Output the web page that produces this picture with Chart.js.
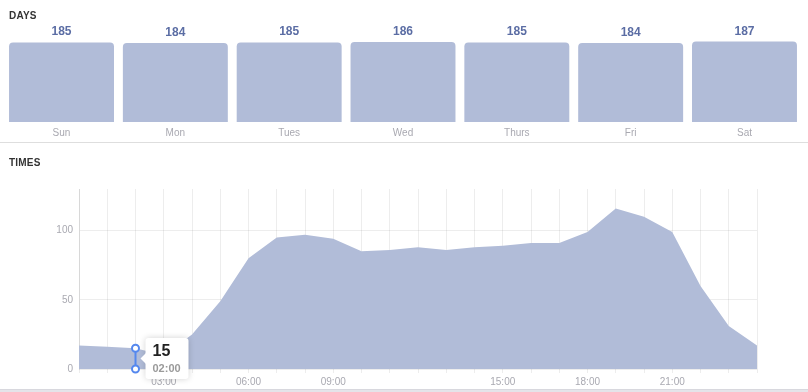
<!DOCTYPE html>
<html>
<head>
<meta charset="utf-8">
<script src="https://cdn.jsdelivr.net/npm/chart.js@4.4.1/dist/chart.umd.min.js"></script>
<style>
  html, body { margin: 0; padding: 0; background: #fff; }
  body { width: 808px; height: 392px; position: relative; overflow: hidden; font-family: 'Liberation Sans', Arial, sans-serif; }
  .title { position: absolute; left: 9px; font-size: 10px; font-weight: bold; color: #333; letter-spacing: 0.2px; }
  #days-title { top: 10px; }
  #times-title { top: 157px; }
  #days-wrap { position: absolute; left: 0; top: 0; width: 808px; height: 142px; }
  #times-wrap { position: absolute; left: 0; top: 143px; width: 808px; height: 246px; }
  .sep { position: absolute; left: 0; width: 808px; height: 1px; background: #dedede; top: 142px; }
  .foot { position: absolute; left: 0; width: 808px; top: 389px; height: 3px; background: #e4e4e9; border-top: 1px solid #d8d8de; }
</style>
</head>
<body>
<div id="days-wrap"><canvas id="days-chart"></canvas></div>
<div class="sep"></div>
<div id="times-wrap"><canvas id="times-chart"></canvas></div>
<div class="foot"></div>
<div class="title" id="days-title">DAYS</div>
<div class="title" id="times-title">TIMES</div>
<script>
// --- datos ---
const days = ['Sun', 'Mon', 'Tues', 'Wed', 'Thurs', 'Fri', 'Sat'];
const dayCounts = [185, 184, 185, 186, 185, 184, 187];

const hours = ['00:00', '01:00', '02:00', '03:00', '04:00', '05:00', '06:00', '07:00', '08:00',
  '09:00', '10:00', '11:00', '12:00', '13:00', '14:00', '15:00', '16:00', '17:00', '18:00',
  '19:00', '20:00', '21:00', '22:00', '23:00', '24:00'];
const hourCounts = [17, 16, 15, 10, 25, 49, 80, 95, 97, 94, 85, 86, 88, 86, 88, 89, 91, 91, 99,
  116, 110, 99, 60, 31, 17];
const hourTickLabels = ['', '', '', '03:00', '', '', '06:00', '', '', '09:00', '', '', '', '', '',
  '15:00', '', '', '18:00', '', '', '21:00', '', '', ''];
const yTicks = [0, 50, 100];
const hoverIndex = 2;

const FONT = "'Liberation Sans', Arial, sans-serif";
const FILL = '#b1bcd8';

// numeritos encima de cada barra
const valueLabels = {
  id: 'valueLabels',
  afterDatasetsDraw(chart) {
    const ctx = chart.ctx;
    const meta = chart.getDatasetMeta(0);
    ctx.save();
    ctx.font = 'bold 12px ' + FONT;
    ctx.fillStyle = '#5b6da4';
    ctx.textAlign = 'center';
    ctx.textBaseline = 'alphabetic';
    meta.data.forEach((bar, i) => {
      ctx.fillText(chart.data.datasets[0].data[i], bar.x, bar.y - 7);
    });
    ctx.restore();
  }
};

// marcador tipo tooltip fijo sobre una hora
const hoverMarker = {
  id: 'hoverMarker',
  afterDraw(chart) {
    const ctx = chart.ctx;
    const x = chart.scales.x.getPixelForValue(hoverIndex);
    const yTop = chart.scales.y.getPixelForValue(hourCounts[hoverIndex]);
    const yBot = chart.scales.y.getPixelForValue(0);
    ctx.save();
    ctx.strokeStyle = '#5588ee';
    ctx.lineWidth = 2;
    ctx.beginPath();
    ctx.moveTo(x, yTop);
    ctx.lineTo(x, yBot);
    ctx.stroke();
    [yTop, yBot].forEach(y => {
      ctx.beginPath();
      ctx.arc(x, y, 3.5, 0, Math.PI * 2);
      ctx.fillStyle = '#fff';
      ctx.fill();
      ctx.stroke();
    });

    // caja
    const mid = (yTop + yBot) / 2;
    const bx = x + 10, bw = 43, bh = 41, by = mid - bh / 2;
    ctx.shadowColor = 'rgba(0,0,0,0.18)';
    ctx.shadowBlur = 6;
    ctx.fillStyle = '#fff';
    ctx.beginPath();
    ctx.roundRect(bx, by, bw, bh, 3);
    ctx.fill();
    ctx.shadowColor = 'transparent';
    ctx.beginPath();
    ctx.moveTo(bx + 1, mid - 6);
    ctx.lineTo(bx - 5, mid);
    ctx.lineTo(bx + 1, mid + 6);
    ctx.closePath();
    ctx.fill();

    ctx.textAlign = 'left';
    ctx.textBaseline = 'middle';
    ctx.fillStyle = '#222';
    ctx.font = 'bold 16px ' + FONT;
    ctx.fillText(hourCounts[hoverIndex], bx + 7, by + 13);
    ctx.fillStyle = '#9a9a9a';
    ctx.font = 'bold 11px ' + FONT;
    ctx.fillText(hours[hoverIndex], bx + 7, by + 31);
    ctx.restore();
  }
};

new Chart(document.getElementById('days-chart'), {
  type: 'bar',
  data: {
    labels: days,
    datasets: [{
      data: dayCounts,
      backgroundColor: FILL,
      borderRadius: { topLeft: 4, topRight: 4 },
      borderSkipped: false,
      barPercentage: 0.922,
      categoryPercentage: 1
    }]
  },
  options: {
    responsive: true,
    maintainAspectRatio: false,
    animation: false,
    layout: { padding: { left: 4.6, right: 6.6, top: 36, bottom: 3 } },
    plugins: { legend: { display: false }, tooltip: { enabled: false } },
    scales: {
      x: {
        grid: { display: false, drawTicks: false, tickLength: 0 },
        border: { display: false },
        ticks: { padding: 5, color: '#a9a9b1', font: { size: 10, family: FONT } },
        afterFit: s => { s.height = 17; }
      },
      y: { display: false, min: 0, max: 200 }
    }
  },
  plugins: [valueLabels]
});

new Chart(document.getElementById('times-chart'), {
  type: 'line',
  data: {
    labels: hours,
    datasets: [{
      data: hourCounts,
      fill: 'origin',
      backgroundColor: FILL,
      borderWidth: 0,
      pointRadius: 0,
      tension: 0
    }]
  },
  options: {
    responsive: true,
    maintainAspectRatio: false,
    animation: false,
    layout: { padding: { left: 0, right: 51, top: 46, bottom: 0 } },
    plugins: { legend: { display: false }, tooltip: { enabled: false } },
    scales: {
      x: {
        z: 1,
        offset: false,
        grid: { color: 'rgba(0,0,0,0.07)', tickLength: 4 },
        border: { display: false },
        ticks: {
          autoSkip: false, maxRotation: 0, padding: 3,
          color: '#a9a9b1', font: { size: 10, family: FONT },
          callback: (v, i) => hourTickLabels[i]
        },
        afterFit: s => { s.height = 20; }
      },
      y: {
        z: 1,
        min: 0,
        max: 130,
        grid: { color: 'rgba(0,0,0,0.07)', drawTicks: false },
        border: { display: true, color: 'rgba(0,0,0,0.09)' },
        ticks: { padding: 6, color: '#a9a9b1', font: { size: 10, family: FONT } },
        afterBuildTicks: s => { s.ticks = yTicks.map(v => ({ value: v })); },
        afterFit: s => { s.width = 79; }
      }
    }
  },
  plugins: [hoverMarker]
});
</script>
</body>
</html>
